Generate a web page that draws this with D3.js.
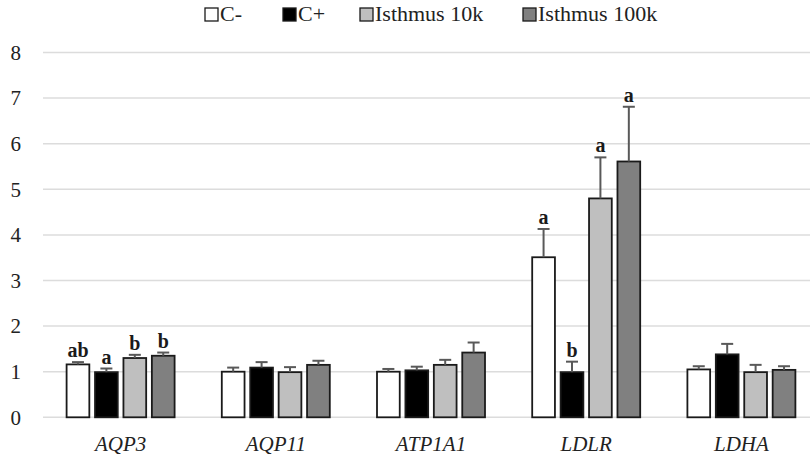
<!DOCTYPE html>
<html>
<head>
<meta charset="utf-8">
<script src="https://cdn.jsdelivr.net/npm/d3@7"></script>
<style>
  html, body { margin: 0; padding: 0; background: #fff; }
  svg text { font-family: "Liberation Serif", "Times New Roman", "DejaVu Serif", serif !important; }
</style>
</head>
<body>
<svg id="chart" width="810" height="461"></svg>
<script>
// Relative gene expression by treatment
const genes = ["AQP3", "AQP11", "ATP1A1", "LDLR", "LDHA"];
const groups = ["C-", "C+", "Isthmus 10k", "Isthmus 100k"];
const colors = ["#ffffff", "#000000", "#bfbfbf", "#808080"];

// Mean values per group (one array per gene, in group order)
const meanAQP3   = [1.16, 0.99, 1.30, 1.35];
const meanAQP11  = [1.00, 1.09, 0.99, 1.15];
const meanATP1A1 = [1.00, 1.03, 1.15, 1.42];
const meanLDLR   = [3.51, 0.99, 4.80, 5.61];
const meanLDHA   = [1.05, 1.38, 0.99, 1.04];

// Upper error (SE) per group
const errAQP3   = [0.05, 0.08, 0.07, 0.07];
const errAQP11  = [0.09, 0.12, 0.11, 0.09];
const errATP1A1 = [0.06, 0.08, 0.11, 0.22];
const errLDLR   = [0.62, 0.23, 0.90, 1.20];
const errLDHA   = [0.07, 0.23, 0.16, 0.08];

// Significance letters
const sigAQP3 = ["ab", "a", "b", "b"];
const sigLDLR = ["a", "b", "a", "a"];

const yTicks = [0, 1, 2, 3, 4, 5, 6, 7, 8];

const means = [meanAQP3, meanAQP11, meanATP1A1, meanLDLR, meanLDHA];
const errs  = [errAQP3, errAQP11, errATP1A1, errLDLR, errLDHA];
const sigs  = [sigAQP3, null, null, sigLDLR, null];

const rows = [];
genes.forEach((g, gi) => {
  groups.forEach((s, si) => {
    rows.push({ gene: g, group: s, si, value: means[gi][si], err: errs[gi][si],
                sig: sigs[gi] ? sigs[gi][si] : null });
  });
});

const svg = d3.select("#chart");

const x = d3.scaleBand().domain(genes).range([43, 819]);
const xs = d3.scaleBand().domain(groups).range([-54, 54]).paddingInner(0.2);
const y = d3.scaleLinear().domain([0, 8]).range([417.3, 52.5]);

// Horizontal gridlines
svg.append("g")
  .selectAll("line")
  .data(yTicks)
  .join("line")
  .attr("x1", 43).attr("x2", 819)
  .attr("y1", d => y(d)).attr("y2", d => y(d))
  .attr("stroke", "#dcdcdc")
  .attr("stroke-width", 1.5);

// Y axis labels
const yAxis = d3.axisLeft(y).tickValues(yTicks).tickSize(0).tickPadding(0).tickFormat(d3.format("d"));
svg.append("g")
  .attr("transform", "translate(21,0)")
  .call(yAxis)
  .call(g => g.select(".domain").remove())
  .call(g => g.selectAll("text")
    .attr("font-size", 21)
    .attr("fill", "#222"));

// X axis labels
const xAxis = d3.axisBottom(x).tickSize(0).tickPadding(0);
svg.append("g")
  .attr("transform", "translate(0,436)")
  .call(xAxis)
  .call(g => g.select(".domain").remove())
  .call(g => g.selectAll("text")
    .attr("font-style", "italic")
    .attr("font-size", 21)
    .attr("fill", "#222"));

const cx = d => x(d.gene) + x.bandwidth() / 2 + xs(d.group);

// Bars
svg.append("g")
  .selectAll("rect")
  .data(rows)
  .join("rect")
  .attr("x", d => cx(d))
  .attr("y", d => y(d.value))
  .attr("width", xs.bandwidth())
  .attr("height", d => y(0) - y(d.value))
  .attr("fill", d => colors[d.si])
  .attr("stroke", "#1a1a1a")
  .attr("stroke-width", 1.8);

// Error bars (upper only)
const eb = svg.append("g").attr("stroke", "#595959").attr("stroke-width", 2);
eb.selectAll("line.v")
  .data(rows)
  .join("line")
  .attr("class", "v")
  .attr("x1", d => cx(d) + xs.bandwidth() / 2)
  .attr("x2", d => cx(d) + xs.bandwidth() / 2)
  .attr("y1", d => y(d.value))
  .attr("y2", d => y(d.value + d.err));
eb.selectAll("line.c")
  .data(rows)
  .join("line")
  .attr("class", "c")
  .attr("x1", d => cx(d) + xs.bandwidth() / 2 - 6)
  .attr("x2", d => cx(d) + xs.bandwidth() / 2 + 6)
  .attr("y1", d => y(d.value + d.err))
  .attr("y2", d => y(d.value + d.err));

// Significance letters
svg.append("g")
  .selectAll("text")
  .data(rows.filter(d => d.sig))
  .join("text")
  .attr("x", d => cx(d) + xs.bandwidth() / 2)
  .attr("y", d => y(d.value + d.err) - 5)
  .attr("text-anchor", "middle")
  .attr("font-weight", "bold")
  .attr("font-size", 20)
  .attr("fill", "#1a1a1a")
  .text(d => d.sig);

// Legend
const legendX = [205, 283, 360, 523];
const lg = svg.append("g")
  .selectAll("g")
  .data(groups)
  .join("g")
  .attr("transform", (d, i) => `translate(${legendX[i]},8)`);
lg.append("rect")
  .attr("width", 13).attr("height", 13)
  .attr("fill", (d, i) => colors[i])
  .attr("stroke", "#1a1a1a")
  .attr("stroke-width", 1.3);
lg.append("text")
  .attr("x", 15)
  .attr("y", 13)
  .attr("font-size", 22)
  .attr("fill", "#222")
  .text(d => d);
</script>
</body>
</html>
